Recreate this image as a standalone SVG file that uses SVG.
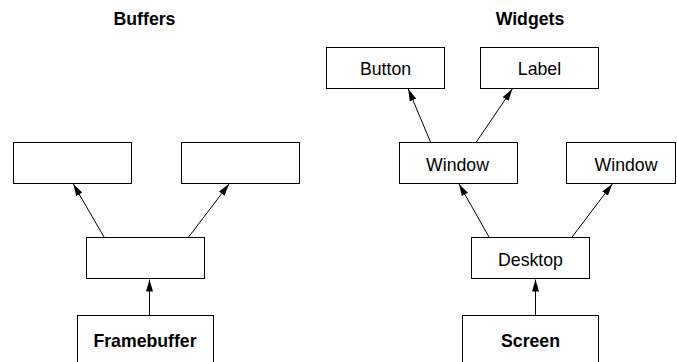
<svg xmlns="http://www.w3.org/2000/svg" width="677" height="362" viewBox="0 0 677 362">
<defs>
<style>
.box{fill:#fff;stroke:#000;stroke-width:1}
.t{font-family:"Liberation Sans",Arial,sans-serif;font-size:17.7px;fill:#000;text-anchor:middle}
.b{font-weight:bold}
.c{stroke:#000;stroke-width:1;fill:none;marker-end:url(#ah)}
</style>
<marker id="ah" viewBox="0 0 12 7" refX="12" refY="3.5" markerWidth="12" markerHeight="7" markerUnits="userSpaceOnUse" orient="auto">
<path d="M0,0 L12,3.5 L0,7 Z" fill="#000"/>
</marker>
</defs>
<rect width="677" height="362" fill="#fff"/>
<text class="t b" x="144.5" y="25">Buffers</text>
<text class="t b" x="530" y="25">Widgets</text>
<g id="connectors">
<line class="c" x1="104.3" y1="237.5" x2="73.3" y2="184"/>
<line class="c" x1="188.3" y1="237.5" x2="229" y2="184"/>
<line class="c" x1="149.5" y1="315.5" x2="149.5" y2="279.5"/>
<line class="c" x1="430.7" y1="142.5" x2="408.3" y2="89"/>
<line class="c" x1="476" y1="142.5" x2="512.3" y2="89"/>
<line class="c" x1="489.3" y1="237.5" x2="459" y2="184"/>
<line class="c" x1="571.7" y1="237.5" x2="612.3" y2="184"/>
<line class="c" x1="535.5" y1="315.5" x2="535.5" y2="279.5"/>
</g>
<g id="buf1"><rect class="box" x="13.5" y="142.5" width="118" height="41"/></g>
<g id="buf2"><rect class="box" x="181.5" y="142.5" width="118" height="41"/></g>
<g id="buf3"><rect class="box" x="86.5" y="237.5" width="118" height="41"/></g>
<g id="framebuffer"><rect class="box" x="77.5" y="315.5" width="136" height="52"/><text class="t b" x="145" y="347">Framebuffer</text></g>
<g id="button"><rect class="box" x="326.5" y="47.5" width="118" height="41"/><text class="t" x="385.5" y="75">Button</text></g>
<g id="label"><rect class="box" x="480.5" y="47.5" width="118" height="41"/><text class="t" x="539.5" y="75">Label</text></g>
<g id="window1"><rect class="box" x="399.5" y="142.5" width="118" height="41"/><text class="t" x="457.5" y="170.5">Window</text></g>
<g id="window2"><rect class="box" x="566.5" y="142.5" width="109" height="41"/><text class="t" x="626" y="170.5">Window</text></g>
<g id="desktop"><rect class="box" x="471.5" y="237.5" width="118" height="41"/><text class="t" x="530.5" y="265.5">Desktop</text></g>
<g id="screen"><rect class="box" x="462.5" y="315.5" width="136" height="52"/><text class="t b" x="530.5" y="347">Screen</text></g>
</svg>
